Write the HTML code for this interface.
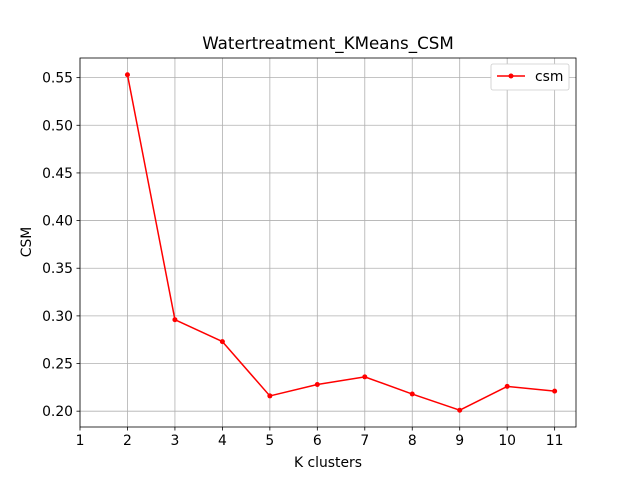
<!DOCTYPE html>
<html><head><meta charset="utf-8"><style>
body{margin:0;background:#fff;}
svg{display:block;font-family:"DejaVu Sans","Liberation Sans",sans-serif;}
</style></head><body>
<svg id="chart" width="640" height="480" viewBox="0 0 640 480">
<rect width="640" height="480" fill="#fff"/>
<text x="328" y="49" text-anchor="middle" font-size="16.7">Watertreatment_KMeans_CSM</text>
<g id="grid"></g>
<g id="axes"></g>
<g id="series"></g>
<rect x="80" y="58" width="496" height="369" fill="none" stroke="#000" stroke-width="0.8"/>
<text x="328" y="467" text-anchor="middle" font-size="13.9">K clusters</text>
<text transform="translate(31,242) rotate(-90)" text-anchor="middle" font-size="13.9">CSM</text>
<g>
<rect x="491" y="64" width="78" height="26" rx="2" fill="#fff" stroke="#ccc" stroke-width="0.8"/>
<line x1="497" y1="76" x2="525" y2="76" stroke="red" stroke-width="1.5"/>
<circle cx="511" cy="76" r="2.5" fill="red"/>
<text x="535" y="81" font-size="13.9">csm</text>
</g>
</svg>
<script>
const categories=[2,3,4,5,6,7,8,9,10,11];
const csmValues=[0.553,0.296,0.273,0.216,0.228,0.236,0.218,0.201,0.226,0.221];
const xTicks=[1,2,3,4,5,6,7,8,9,10,11];
const yTicks=[0.20,0.25,0.30,0.35,0.40,0.45,0.50,0.55];
const NS="http://www.w3.org/2000/svg";
const L=80,R=576,T=58,B=427;
const xmin=1,xmax=11.45,ymin=0.1834,ymax=0.5706;
const xs=v=>L+(v-xmin)/(xmax-xmin)*(R-L);
const ys=v=>B-(v-ymin)/(ymax-ymin)*(B-T);
function mk(tag,attrs,parent){const e=document.createElementNS(NS,tag);for(const k in attrs)e.setAttribute(k,attrs[k]);parent.appendChild(e);return e;}
const grid=document.getElementById('grid'),axes=document.getElementById('axes'),ser=document.getElementById('series');
xTicks.forEach(t=>{const x=xs(t);
const g=mk('line',{x1:x,x2:x,y1:T,y2:B,stroke:'#b0b0b0','stroke-width':0.8},grid);


mk('line',{x1:x,x2:x,y1:B,y2:B+3.5,stroke:'#000','stroke-width':0.8},axes);
const tx=mk('text',{x:x,y:B+18,'text-anchor':'middle','font-size':13.9},axes);tx.textContent=t;

});
yTicks.forEach(t=>{const y=ys(t);
const g=mk('line',{x1:L,x2:R,y1:y,y2:y,stroke:'#b0b0b0','stroke-width':0.8},grid);


mk('line',{x1:L-3.5,x2:L,y1:y,y2:y,stroke:'#000','stroke-width':0.8},axes);
const tx=mk('text',{x:L-7,y:y+5,'text-anchor':'end','font-size':13.9},axes);tx.textContent=t.toFixed(2);

});
const pts=categories.map((c,i)=>xs(c)+','+ys(csmValues[i])).join(' ');
const pl=mk('polyline',{points:pts,fill:'none',stroke:'red','stroke-width':1.5,'stroke-linejoin':'round'},ser);


categories.forEach((c,i)=>{const p=mk('circle',{cx:xs(c),cy:ys(csmValues[i]),r:2.5,fill:'red'},ser);

});
</script>
</body></html>
